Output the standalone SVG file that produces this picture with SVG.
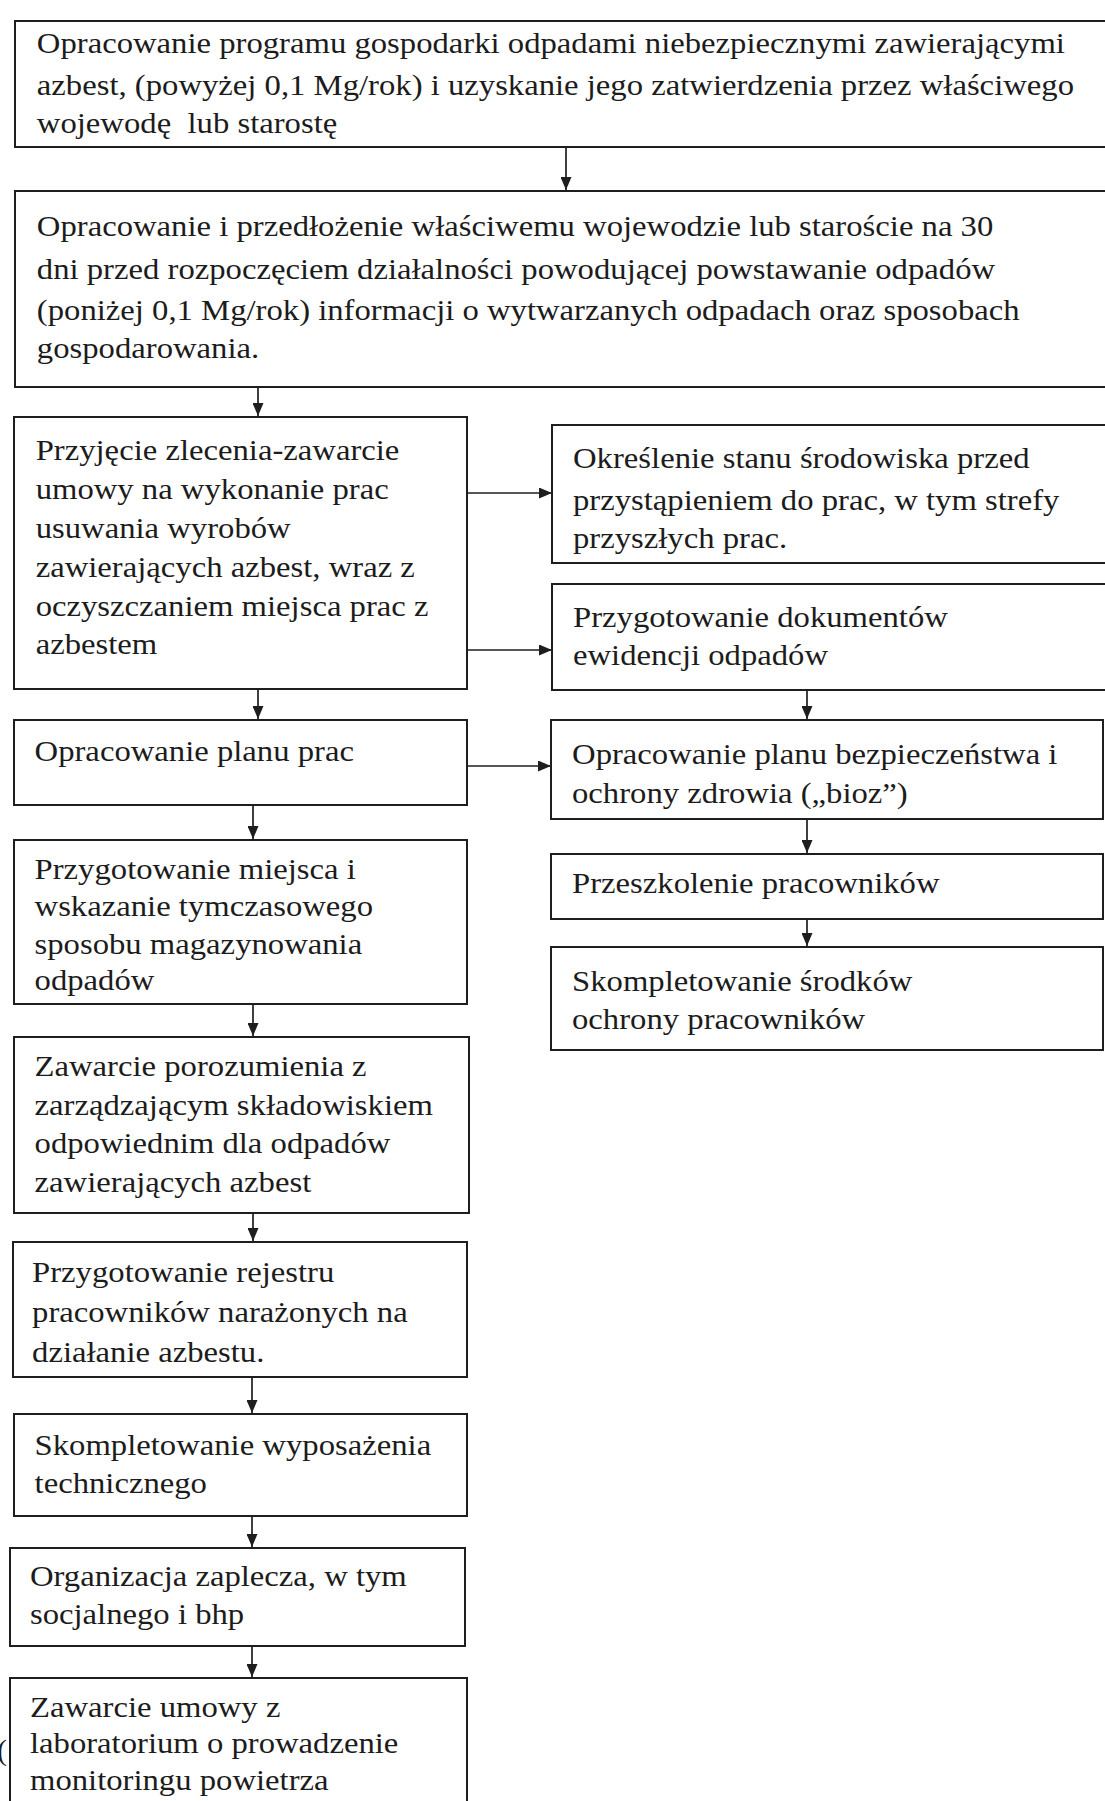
<svg xmlns="http://www.w3.org/2000/svg" width="1105" height="1801" viewBox="0 0 1105 1801">
<defs>
<style>
.box{fill:#fff;stroke:#1e1e1e;stroke-width:2}
.t{font-family:"Liberation Serif","Times New Roman",serif;font-size:30px;fill:#1c1c1c}
.c{stroke:#1e1e1e;stroke-width:1.7;fill:none;marker-end:url(#ah)}
</style>
<marker id="ah" markerUnits="userSpaceOnUse" markerWidth="13" markerHeight="11" refX="13" refY="5.5" orient="auto">
<path d="M0,0 L13,5.5 L0,11 z" fill="#1e1e1e"/>
</marker>
</defs>
<rect width="1105" height="1801" fill="#fff"/>

<g id="connectors">
<line class="c" x1="566" y1="147" x2="566" y2="190"/>
<line class="c" x1="258" y1="387" x2="258" y2="416"/>
<line class="c" x1="467" y1="493" x2="552" y2="493"/>
<line class="c" x1="467" y1="650" x2="552" y2="650"/>
<line class="c" x1="258" y1="689" x2="258" y2="719"/>
<line class="c" x1="467" y1="766" x2="551" y2="766"/>
<line class="c" x1="807" y1="690" x2="807" y2="719"/>
<line class="c" x1="807" y1="819" x2="807" y2="853"/>
<line class="c" x1="807" y1="919" x2="807" y2="946"/>
<line class="c" x1="253" y1="805" x2="253" y2="839"/>
<line class="c" x1="253" y1="1004" x2="253" y2="1036"/>
<line class="c" x1="253" y1="1213" x2="253" y2="1241"/>
<line class="c" x1="252" y1="1377" x2="252" y2="1413"/>
<line class="c" x1="252" y1="1516" x2="252" y2="1547"/>
<line class="c" x1="252" y1="1646" x2="252" y2="1677"/>
</g>

<g id="n1">
<rect class="box" x="15" y="21" width="1100" height="126"/>
<text class="t" transform="scale(1.09 1)" xml:space="preserve">
<tspan x="33.8" y="53">Opracowanie programu gospodarki odpadami niebezpiecznymi zawierającymi</tspan>
<tspan x="33.8" y="95">azbest, (powyżej 0,1 Mg/rok) i uzyskanie jego zatwierdzenia przez właściwego</tspan>
<tspan x="33.8" y="133">wojewodę  lub starostę</tspan>
</text>
</g>

<g id="n2">
<rect class="box" x="15" y="191" width="1100" height="196"/>
<text class="t" transform="scale(1.09 1)">
<tspan x="33.8" y="236">Opracowanie i przedłożenie właściwemu wojewodzie lub staroście na 30</tspan>
<tspan x="33.8" y="279">dni przed rozpoczęciem działalności powodującej powstawanie odpadów</tspan>
<tspan x="33.8" y="320">(poniżej 0,1 Mg/rok) informacji o wytwarzanych odpadach oraz sposobach</tspan>
<tspan x="33.8" y="358">gospodarowania.</tspan>
</text>
</g>

<g id="n3">
<rect class="box" x="14" y="417" width="453" height="272"/>
<text class="t" transform="scale(1.09 1)">
<tspan x="32.7" y="460">Przyjęcie zlecenia-zawarcie</tspan>
<tspan x="32.7" y="499">umowy na wykonanie prac</tspan>
<tspan x="32.7" y="538">usuwania wyrobów</tspan>
<tspan x="32.7" y="577">zawierających azbest, wraz z</tspan>
<tspan x="32.7" y="616">oczyszczaniem miejsca prac z</tspan>
<tspan x="32.7" y="654">azbestem</tspan>
</text>
</g>

<g id="r1">
<rect class="box" x="552" y="425" width="563" height="138"/>
<text class="t" transform="scale(1.09 1)">
<tspan x="525.7" y="468">Określenie stanu środowiska przed</tspan>
<tspan x="525.7" y="510">przystąpieniem do prac, w tym strefy</tspan>
<tspan x="525.7" y="548">przyszłych prac.</tspan>
</text>
</g>

<g id="r2">
<rect class="box" x="552" y="584" width="563" height="106"/>
<text class="t" transform="scale(1.09 1)">
<tspan x="525.7" y="627">Przygotowanie dokumentów</tspan>
<tspan x="525.7" y="665">ewidencji odpadów</tspan>
</text>
</g>

<g id="n4">
<rect class="box" x="14" y="720" width="453" height="85"/>
<text class="t" transform="scale(1.09 1)">
<tspan x="31.7" y="761">Opracowanie planu prac</tspan>
</text>
</g>

<g id="r3">
<rect class="box" x="551" y="720" width="552" height="99"/>
<text class="t" transform="scale(1.09 1)">
<tspan x="524.8" y="764">Opracowanie planu bezpieczeństwa i</tspan>
<tspan x="524.8" y="803">ochrony zdrowia („bioz”)</tspan>
</text>
</g>

<g id="r4">
<rect class="box" x="551" y="854" width="552" height="65"/>
<text class="t" transform="scale(1.09 1)">
<tspan x="524.8" y="893">Przeszkolenie pracowników</tspan>
</text>
</g>

<g id="r5">
<rect class="box" x="551" y="947" width="552" height="103"/>
<text class="t" transform="scale(1.09 1)">
<tspan x="524.8" y="991">Skompletowanie środków</tspan>
<tspan x="524.8" y="1029">ochrony pracowników</tspan>
</text>
</g>

<g id="n5">
<rect class="box" x="14" y="840" width="453" height="164"/>
<text class="t" transform="scale(1.09 1)">
<tspan x="31.7" y="879">Przygotowanie miejsca i</tspan>
<tspan x="31.7" y="916">wskazanie tymczasowego</tspan>
<tspan x="31.7" y="954">sposobu magazynowania</tspan>
<tspan x="31.7" y="990">odpadów</tspan>
</text>
</g>

<g id="n6">
<rect class="box" x="14" y="1037" width="455" height="176"/>
<text class="t" transform="scale(1.09 1)">
<tspan x="31.7" y="1076">Zawarcie porozumienia z</tspan>
<tspan x="31.7" y="1115">zarządzającym składowiskiem</tspan>
<tspan x="31.7" y="1153">odpowiednim dla odpadów</tspan>
<tspan x="31.7" y="1192">zawierających azbest</tspan>
</text>
</g>

<g id="n7">
<rect class="box" x="13" y="1242" width="454" height="135"/>
<text class="t" transform="scale(1.09 1)">
<tspan x="29.4" y="1282">Przygotowanie rejestru</tspan>
<tspan x="29.4" y="1322">pracowników narażonych na</tspan>
<tspan x="29.4" y="1362">działanie azbestu.</tspan>
</text>
</g>

<g id="n8">
<rect class="box" x="14" y="1414" width="453" height="102"/>
<text class="t" transform="scale(1.09 1)">
<tspan x="31.7" y="1455">Skompletowanie wyposażenia</tspan>
<tspan x="31.7" y="1493">technicznego</tspan>
</text>
</g>

<g id="n9">
<rect class="box" x="10" y="1548" width="455" height="98"/>
<text class="t" transform="scale(1.09 1)">
<tspan x="27.5" y="1586">Organizacja zaplecza, w tym</tspan>
<tspan x="27.5" y="1624">socjalnego i bhp</tspan>
</text>
</g>

<g id="n10">
<rect class="box" x="10" y="1678" width="457" height="140"/>
<text class="t" transform="scale(1.09 1)">
<tspan x="27.5" y="1717">Zawarcie umowy z</tspan>
<tspan x="27.5" y="1753">laboratorium o prowadzenie</tspan>
<tspan x="27.5" y="1790">monitoringu powietrza</tspan>
</text>
</g>

<text class="t" x="-3" y="1760">(</text>
</svg>
